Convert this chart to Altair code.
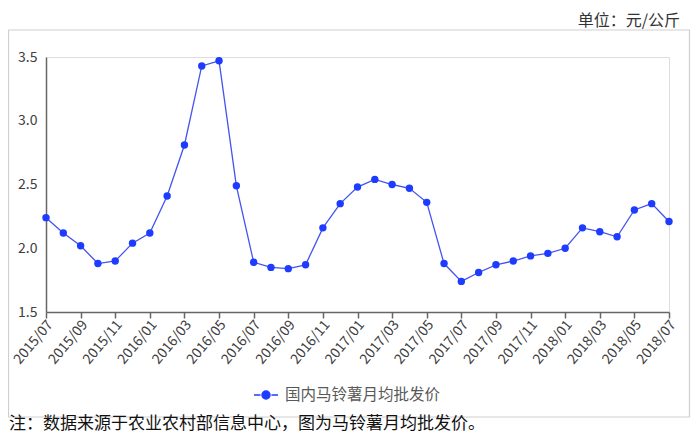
import altair as alt
import pandas as pd

months = [
    "2015/07", "2015/08", "2015/09", "2015/10", "2015/11", "2015/12",
    "2016/01", "2016/02", "2016/03", "2016/04", "2016/05", "2016/06",
    "2016/07", "2016/08", "2016/09", "2016/10", "2016/11", "2016/12",
    "2017/01", "2017/02", "2017/03", "2017/04", "2017/05", "2017/06",
    "2017/07", "2017/08", "2017/09", "2017/10", "2017/11", "2017/12",
    "2018/01", "2018/02", "2018/03", "2018/04", "2018/05", "2018/06",
    "2018/07",
]
prices = [
    2.24, 2.12, 2.02, 1.88, 1.90, 2.04,
    2.12, 2.41, 2.81, 3.43, 3.47, 2.49,
    1.89, 1.85, 1.84, 1.87, 2.16, 2.35,
    2.48, 2.54, 2.50, 2.47, 2.36, 1.88,
    1.74, 1.81, 1.87, 1.90, 1.94, 1.96,
    2.00, 2.16, 2.13, 2.09, 2.30, 2.35,
    2.21,
]
tick_months = months[::2]
y_ticks = [1.5, 2.0, 2.5, 3.0, 3.5]
series_name = "国内马铃薯月均批发价"
unit_text = "单位：元/公斤"
note_text = "注：数据来源于农业农村部信息中心，图为马铃薯月均批发价。"

FONT = "Noto Sans CJK SC"
LINE_COLOR = "#4454f0"
POINT_COLOR = "#1e3cff"

df = pd.DataFrame({"month": months, "price": prices, "series": series_name})

x_enc = alt.X(
    "month:O",
    sort=months,
    scale=alt.Scale(type="point", padding=0),
    axis=alt.Axis(
        title=None, values=tick_months, labelAngle=310, labelFontSize=14,
        labelFont=FONT, labelColor="#404040", domainColor="#666666",
        domainWidth=1.5, tickColor="#666666", tickWidth=1.5, tickSize=6,
        labelPadding=4, labelOffset=4, labelAlign="right", labelBaseline="middle",
    ),
)
y_enc = alt.Y(
    "price:Q",
    scale=alt.Scale(domain=[1.5, 3.5], zero=False, nice=False),
    axis=alt.Axis(
        title=None, values=y_ticks, format=".1f", grid=False, ticks=False,
        labelFontSize=14, labelFont=FONT, labelColor="#404040",
        domainColor="#666666", domainWidth=1.5, labelPadding=9,
    ),
)

base = alt.Chart(df)
line = base.mark_line(color=LINE_COLOR, strokeWidth=1.3).encode(x=x_enc, y=y_enc)
points = base.mark_circle(size=55, opacity=1).encode(
    x=x_enc,
    y=y_enc,
    color=alt.Color(
        "series:N",
        scale=alt.Scale(domain=[series_name], range=[POINT_COLOR]),
        legend=alt.Legend(
            title=None, orient="none", legendX=207, legendY=325,
            symbolType="M-1,0H-0.45M0.45,0H1M-0.33,0A0.33,0.33,0,1,1,0.33,0A0.33,0.33,0,1,1,-0.33,0Z",
            symbolSize=576, symbolStrokeWidth=1.5, symbolStrokeColor=POINT_COLOR,
            symbolFillColor=POINT_COLOR, symbolOpacity=1,
            labelFont=FONT, labelFontSize=15.5, labelColor="#595959", labelOffset=6,
            padding=0,
        ),
    ),
)

border = alt.Chart(pd.DataFrame({"k": [0]})).mark_rect(
    fill=None, stroke="#cfcfcf", strokeWidth=1.2
).encode(
    x=alt.value(-37.5), x2=alt.value(643.5), y=alt.value(-27), y2=alt.value(360)
)

unit = alt.Chart(pd.DataFrame({"t": [unit_text]})).mark_text(
    align="right", baseline="middle", font=FONT, fontSize=16, color="#333333"
).encode(text="t:N", x=alt.value(634), y=alt.value(-36))

note = alt.Chart(pd.DataFrame({"t": [note_text]})).mark_text(
    align="left", baseline="middle", font=FONT, fontSize=17, color="#111111"
).encode(text="t:N", x=alt.value(-37), y=alt.value(367))

chart = alt.layer(border, line, points, unit, note).properties(
    width=623, height=255,
    padding={"left": 38, "top": 49, "right": 22, "bottom": 124},
    autosize=alt.AutoSizeParams(type="none"),
).configure_view(stroke=None).configure(background="white")

chart.save("out.html", embed_options={"renderer": "svg", "actions": False})
